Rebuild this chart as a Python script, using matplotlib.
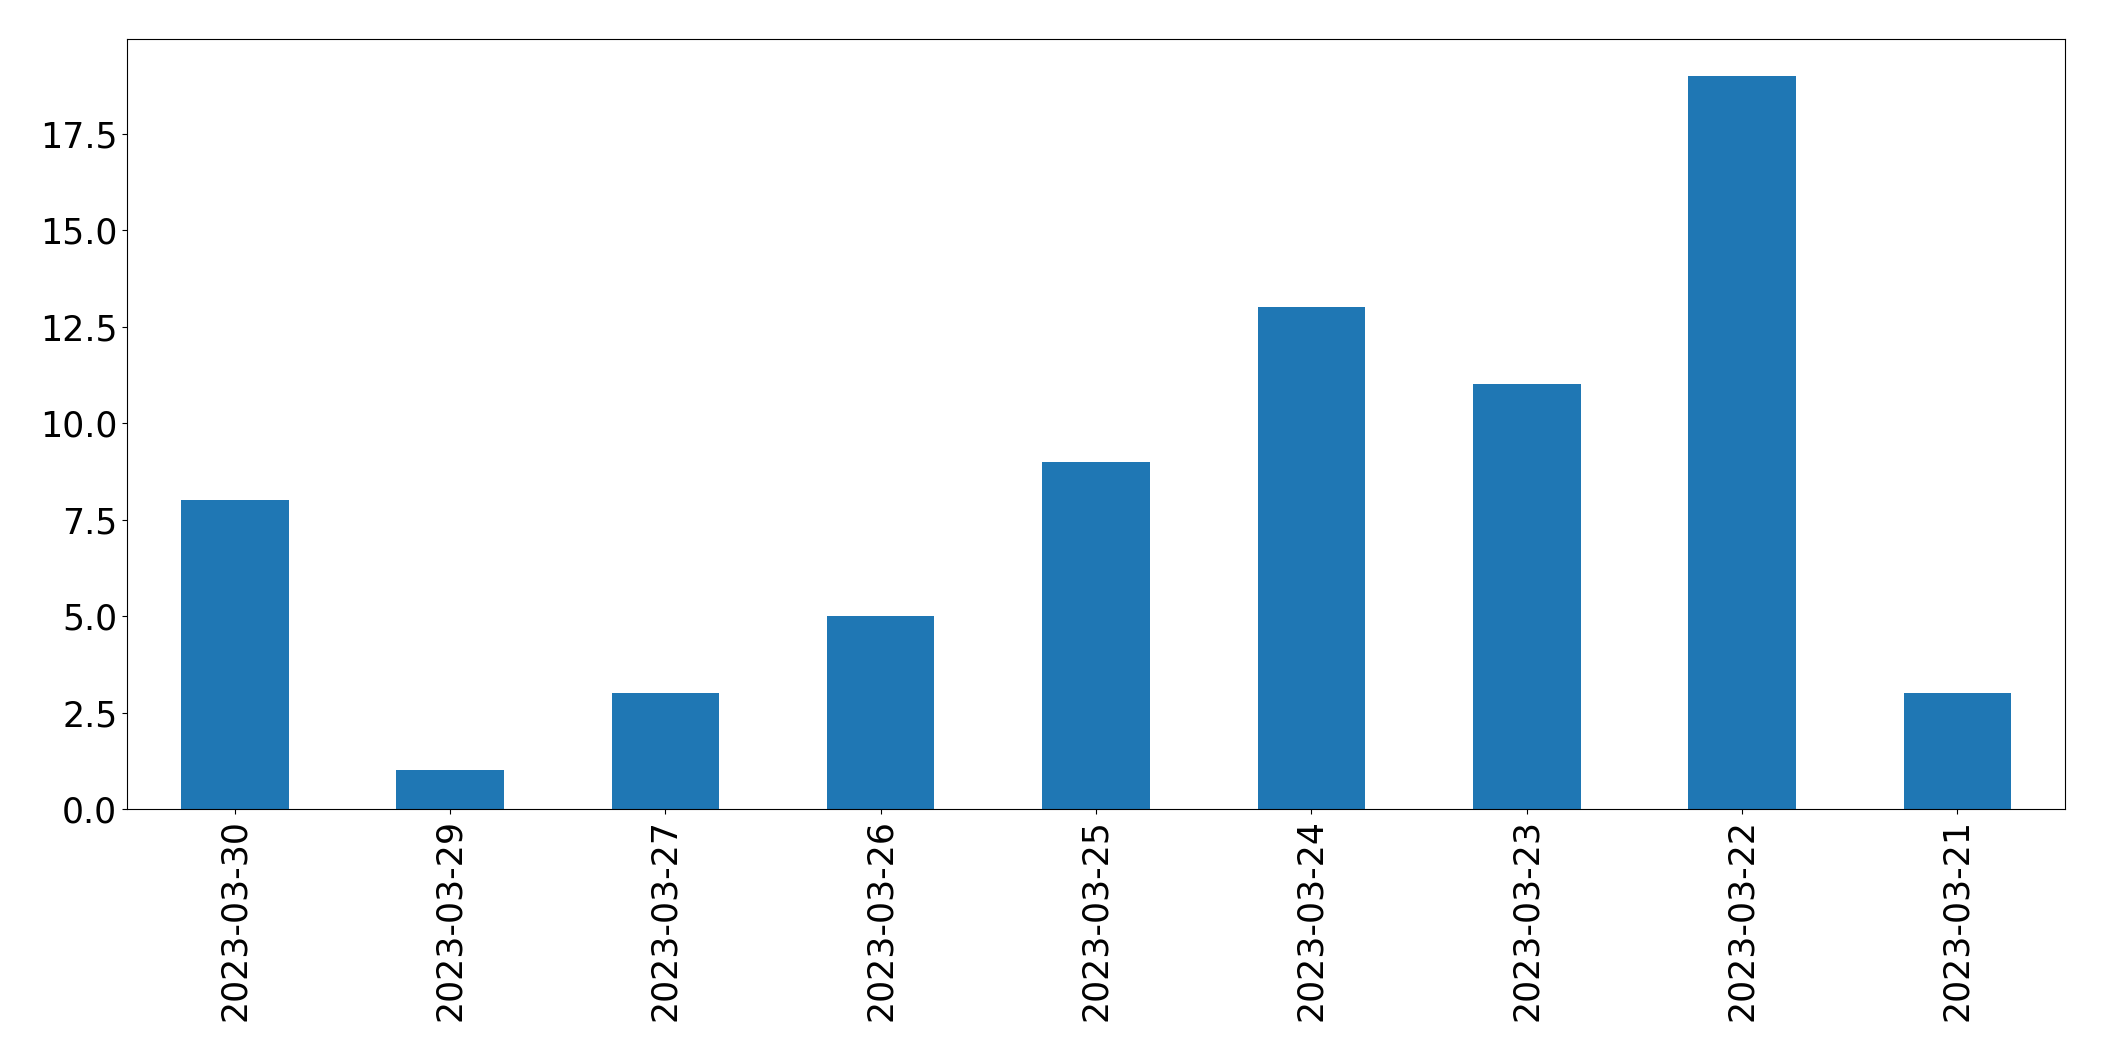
import pandas as pd
import matplotlib
matplotlib.use("Agg")
import matplotlib.pyplot as plt

fechas = ["2023-03-30", "2023-03-29", "2023-03-27", "2023-03-26", "2023-03-25",
          "2023-03-24", "2023-03-23", "2023-03-22", "2023-03-21"]
cantidad = [8, 1, 3, 5, 9, 13, 11, 19, 3]

s = pd.Series(cantidad, index=fechas)

fig = plt.figure(figsize=(21.04, 10.61), dpi=100)
ax = fig.add_axes([127 / 2104, 1 - 809 / 1061, (2065 - 127) / 2104, (809 - 39) / 1061])
s.plot(kind="bar", ax=ax, color="#1f77b4", fontsize=25)
ax.tick_params(axis="both", labelsize=25)

plt.savefig("out.png", dpi=100)
